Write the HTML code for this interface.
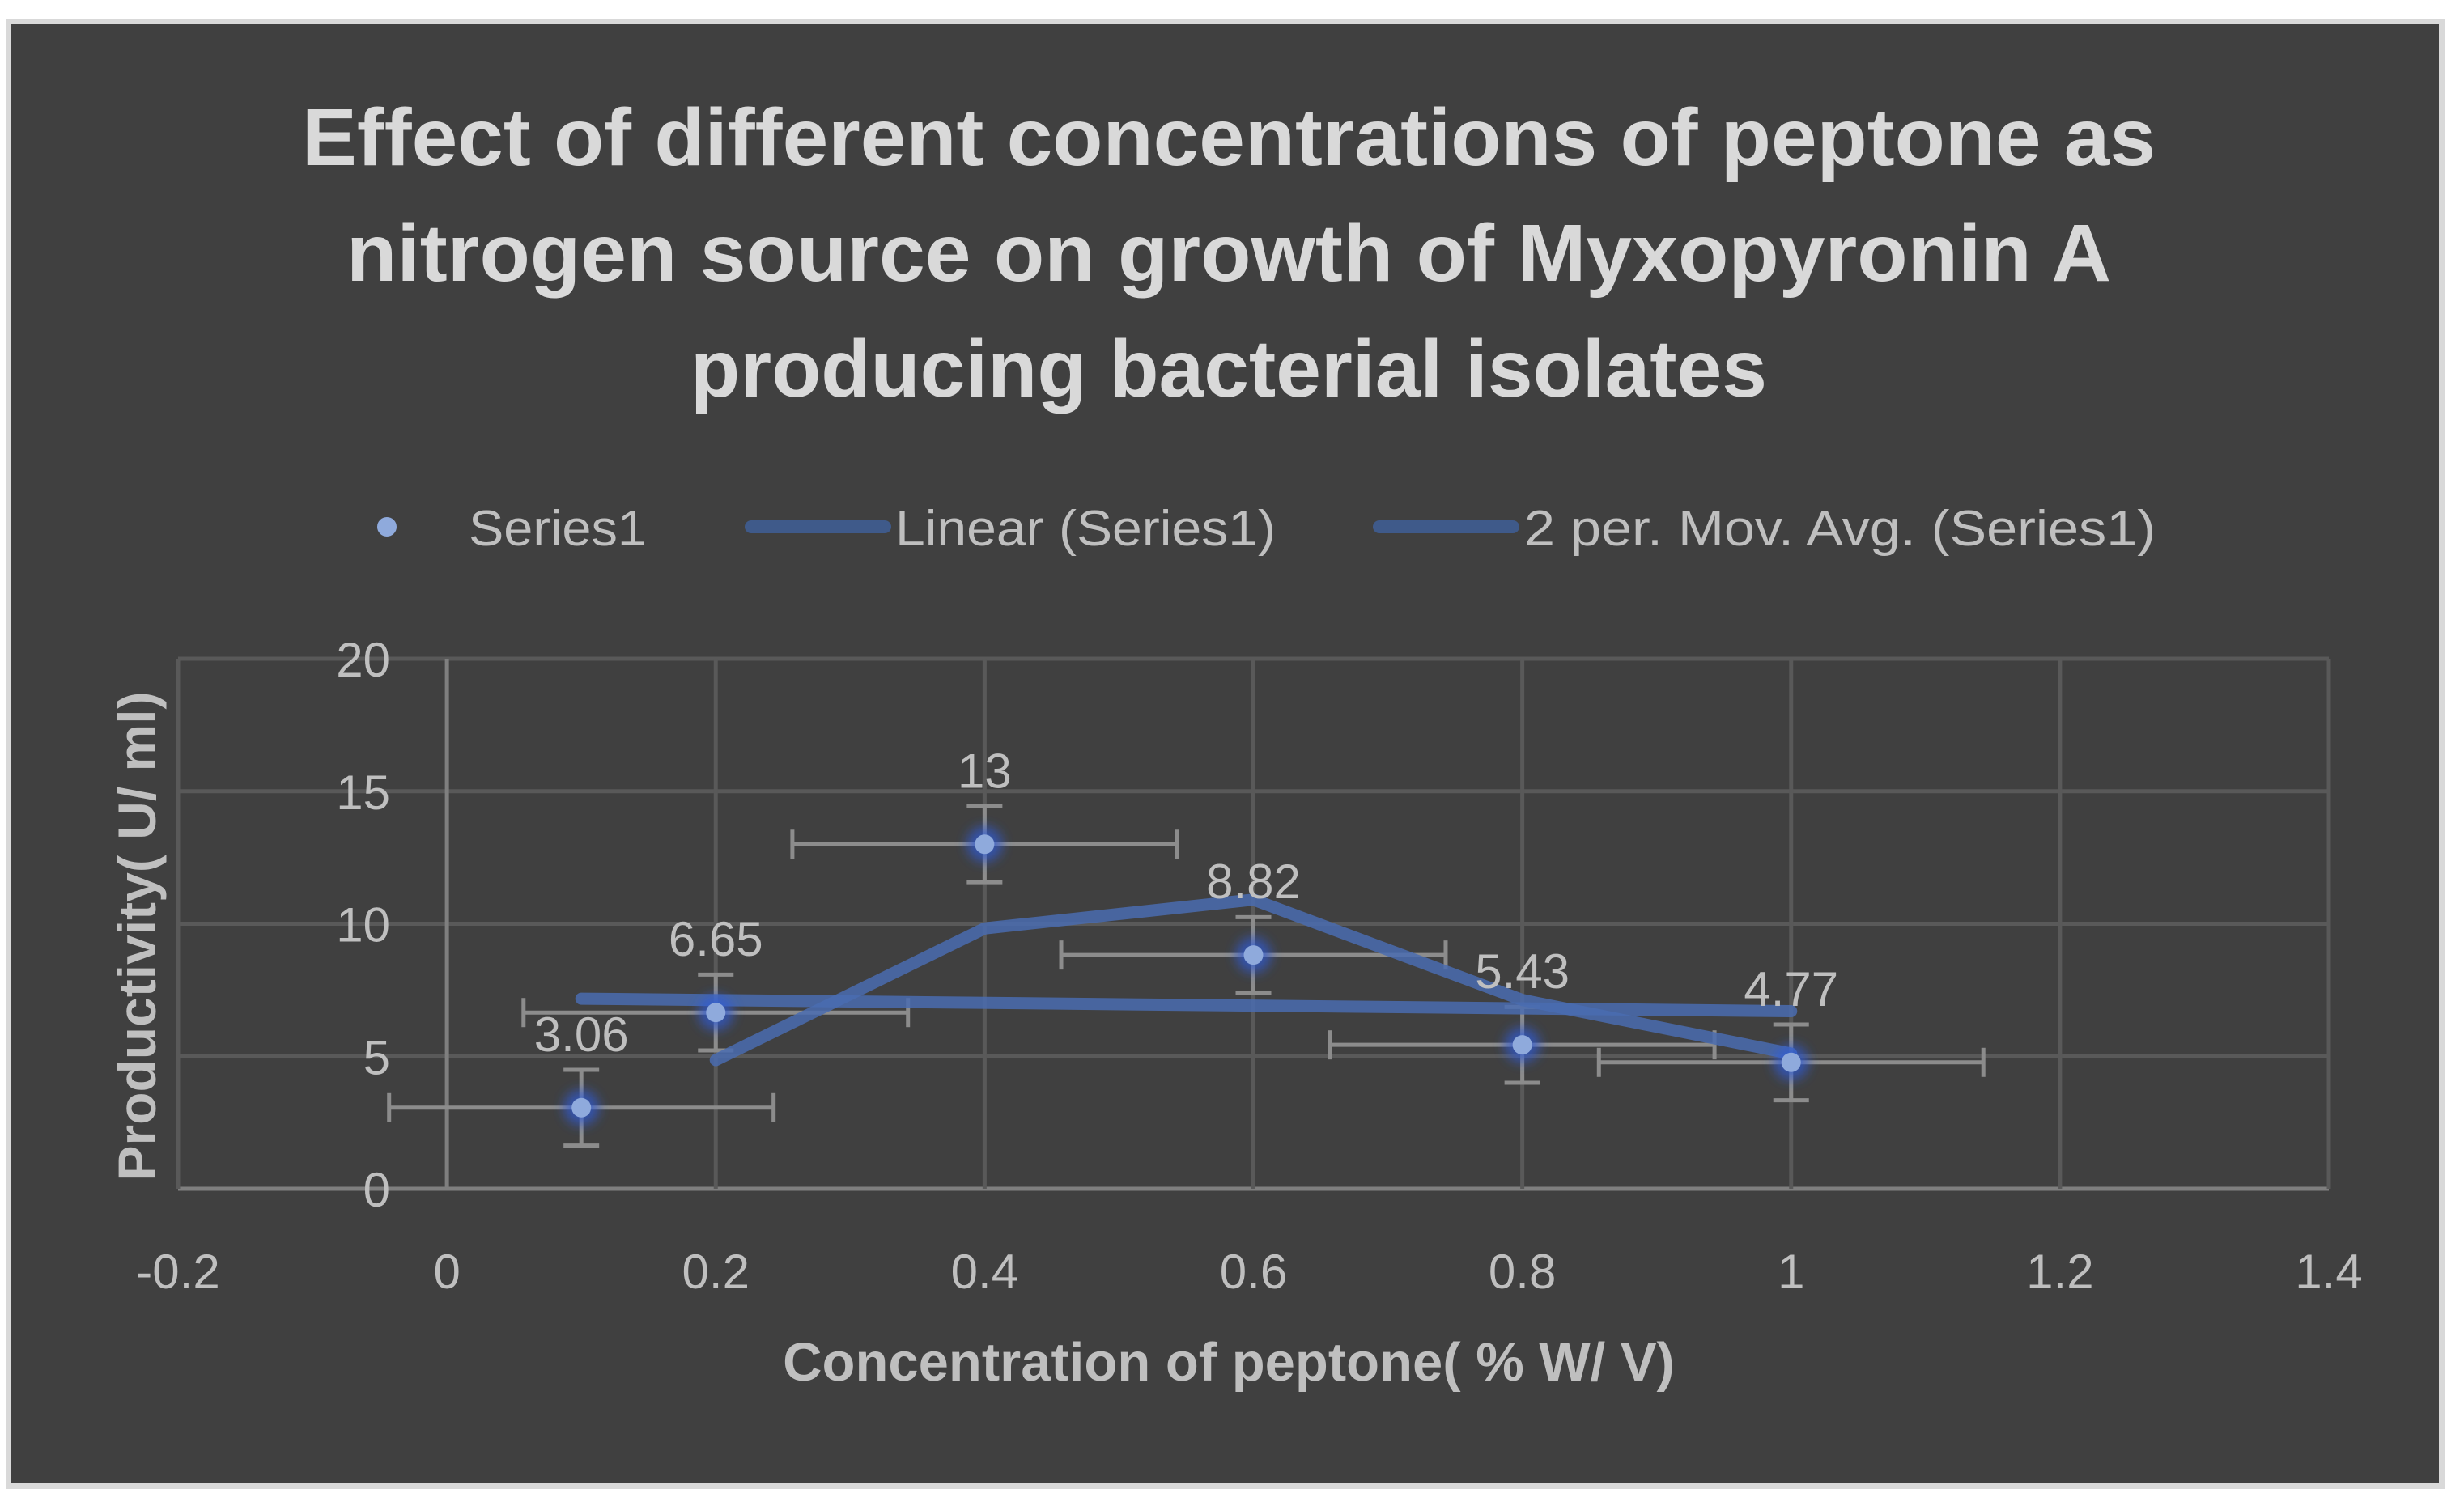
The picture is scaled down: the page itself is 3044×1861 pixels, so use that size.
<!DOCTYPE html>
<html><head><meta charset="utf-8"><style>
html,body{margin:0;padding:0;background:#fff}
svg{display:block}
text{font-family:"Liberation Sans",sans-serif}
</style></head><body>
<svg width="3044" height="1861" viewBox="0 0 3044 1861">
<defs><filter id="blur" x="-1" y="-1" width="3" height="3"><feGaussianBlur stdDeviation="7"/></filter></defs>
<rect x="8" y="24" width="3012" height="1816" fill="#d9d9d9"/>
<rect x="14" y="30" width="2999" height="1803" fill="#404040"/>
<g fill="#d9d9d9" font-weight="bold" font-size="100" text-anchor="middle">
<text x="1518" y="204" textLength="2290" lengthAdjust="spacingAndGlyphs">Effect of different concentrations of peptone as</text>
<text x="1518" y="347" textLength="2180" lengthAdjust="spacingAndGlyphs">nitrogen source on growth of Myxopyronin A</text>
<text x="1518" y="490" textLength="1330" lengthAdjust="spacingAndGlyphs">producing bacterial isolates</text>
</g>
<g font-size="62" fill="#bfbfbf">
<circle cx="478" cy="651" r="12" fill="#8faadc"/>
<text x="579" y="674" textLength="220" lengthAdjust="spacingAndGlyphs">Series1</text>
<line x1="928" y1="651" x2="1093" y2="651" stroke="#3f5a8a" stroke-width="16" stroke-linecap="round"/>
<text x="1106" y="674" textLength="470" lengthAdjust="spacingAndGlyphs">Linear (Series1)</text>
<line x1="1704" y1="651" x2="1869" y2="651" stroke="#3f5a8a" stroke-width="16" stroke-linecap="round"/>
<text x="1883" y="674" textLength="780" lengthAdjust="spacingAndGlyphs">2 per. Mov. Avg. (Series1)</text>
</g>
<g id="plot"></g>
<text x="1518" y="1706" font-size="67" font-weight="bold" fill="#bfbfbf" text-anchor="middle">Concentration of peptone( % W/ V)</text>
<text transform="translate(192,1157) rotate(-90)" font-size="66" font-weight="bold" fill="#bfbfbf" text-anchor="middle">Productivity( U/ ml)</text>
</svg>
<script>
const xValues=[0.1,0.2,0.4,0.6,0.8,1];
const yValues=[3.06,6.65,13,8.82,5.43,4.77];
const xErr=[0.143,0.143,0.143,0.143,0.143,0.143];
const yErr=[1.43,1.43,1.43,1.43,1.43,1.43];
const xTicks=[-0.2,0,0.2,0.4,0.6,0.8,1,1.2,1.4];
const yTicks=[0,5,10,15,20];
const X0=220,X1=2877,Y0=1469,Y1=814;
const sx=v=>X0+(v+0.2)/1.6*(X1-X0);
const sy=v=>Y0-v/20*(Y0-Y1);
const NS='http://www.w3.org/2000/svg';
const g=document.getElementById('plot');
function mk(tag,attrs,parent){const e=document.createElementNS(NS,tag);for(const k in attrs)e.setAttribute(k,attrs[k]);(parent||g).appendChild(e);return e;}
yTicks.forEach(t=>{
 const l=mk('line',{x1:X0,x2:X1,y1:sy(t),y2:sy(t),stroke:t===0?'#7f7f7f':'#595959','stroke-width':5});
 
 
 const tx=mk('text',{x:482,y:sy(t)+22,'font-size':60,fill:'#bfbfbf','text-anchor':'end'});tx.textContent=t;
 
 
});
xTicks.forEach(t=>{
 const l=mk('line',{x1:sx(t),x2:sx(t),y1:Y1,y2:Y0,stroke:Math.abs(t)<1e-9?'#7f7f7f':'#595959','stroke-width':5});
 
 
 const tx=mk('text',{x:sx(t),y:1592,'font-size':60,fill:'#bfbfbf','text-anchor':'middle'});tx.textContent=t;
 
 
});
xValues.forEach((x,i)=>{
 const y=yValues[i];
 const eb=mk('g',{stroke:'#8c8c8c','stroke-width':5,fill:'none'});
 
 
 mk('line',{x1:sx(x-xErr[i]),x2:sx(x+xErr[i]),y1:sy(y),y2:sy(y)},eb);
 mk('line',{x1:sx(x-xErr[i]),x2:sx(x-xErr[i]),y1:sy(y)-18,y2:sy(y)+18},eb);
 mk('line',{x1:sx(x+xErr[i]),x2:sx(x+xErr[i]),y1:sy(y)-18,y2:sy(y)+18},eb);
 mk('line',{x1:sx(x),x2:sx(x),y1:sy(y-yErr[i]),y2:sy(y+yErr[i])},eb);
 mk('line',{x1:sx(x)-22,x2:sx(x)+22,y1:sy(y-yErr[i]),y2:sy(y-yErr[i])},eb);
 mk('line',{x1:sx(x)-22,x2:sx(x)+22,y1:sy(y+yErr[i]),y2:sy(y+yErr[i])},eb);
});
const n=xValues.length,mx=xValues.reduce((a,b)=>a+b)/n,my=yValues.reduce((a,b)=>a+b)/n;
let sxy=0,sxx=0;xValues.forEach((x,i)=>{sxy+=(x-mx)*(yValues[i]-my);sxx+=(x-mx)**2;});
const slope=sxy/sxx,ic=my-slope*mx;
const xa=xValues[0],xb=xValues[n-1];
const lin=mk('line',{x1:sx(xa),y1:sy(ic+slope*xa),x2:sx(xb),y2:sy(ic+slope*xb),stroke:'#4a6cb0','stroke-opacity':0.85,'stroke-width':15,'stroke-linecap':'round'});


const ma=[];for(let i=1;i<n;i++)ma.push([sx(xValues[i]),sy((yValues[i]+yValues[i-1])/2)]);
const mav=mk('polyline',{points:ma.map(p=>p.join(',')).join(' '),fill:'none',stroke:'#4a6cb0','stroke-opacity':0.85,'stroke-width':15,'stroke-linecap':'round','stroke-linejoin':'round'});


xValues.forEach((x,i)=>{
 const glow=mk('circle',{cx:sx(x),cy:sy(yValues[i]),r:22,fill:'#2f5bd8','fill-opacity':0.7,filter:'url(#blur)'});
 
 
 const c=mk('circle',{cx:sx(x),cy:sy(yValues[i]),r:12,fill:'#8faadc'});
 
 
 const t=mk('text',{x:sx(x),y:sy(yValues[i])-70,'font-size':60,fill:'#bfbfbf','text-anchor':'middle'});
 t.textContent=yValues[i];
 
 
});
</script>
</body></html>
